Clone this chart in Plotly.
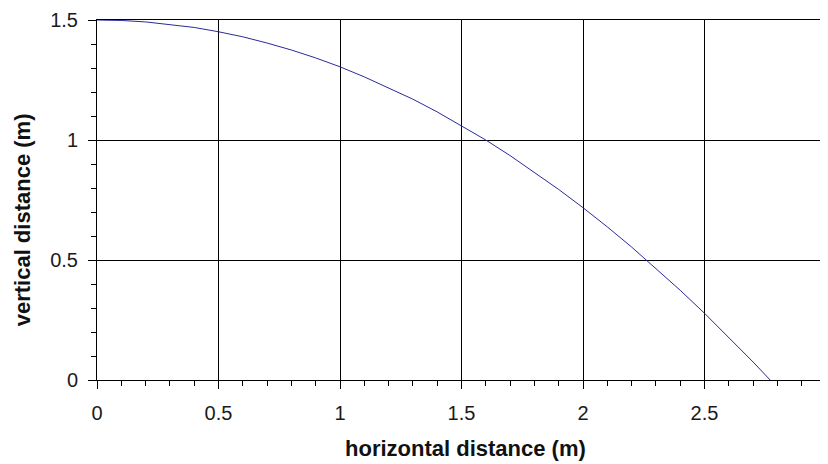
import plotly.graph_objects as go

x_vals = [0.0, 0.1, 0.2, 0.3, 0.4, 0.5, 0.6, 0.7, 0.8, 0.9, 1.0, 1.1, 1.2, 1.3, 1.4,
          1.5, 1.6, 1.7, 1.8, 1.9, 2.0, 2.1, 2.2, 2.3, 2.4, 2.5, 2.6, 2.7, 2.77]
y_vals = [1.5, 1.498, 1.492, 1.482, 1.469, 1.451, 1.43, 1.404, 1.375, 1.342, 1.305,
          1.263, 1.218, 1.170, 1.117, 1.06, 1.0, 0.935, 0.866, 0.794, 0.718, 0.638,
          0.554, 0.466, 0.374, 0.278, 0.178, 0.075, 0.0]
x_ticks = [0, 0.5, 1, 1.5, 2, 2.5, 3]
x_tick_labels = ["0", "0.5", "1", "1.5", "2", "2.5", "3"]
y_ticks = [0, 0.5, 1, 1.5]
y_tick_labels = ["0", "0.5", "1", "1.5"]
x_title = "horizontal distance (m)"
y_title = "vertical distance (m)"

FAM = "Liberation Sans, Arial, sans-serif"

fig = go.Figure()
fig.add_trace(go.Scatter(x=x_vals, y=y_vals, mode="lines",
                         line=dict(color="#2a2a9c", width=1), showlegend=False))

axis_common = dict(
    showgrid=True, gridcolor="#000000", gridwidth=1,
    showline=True, linecolor="#000000", linewidth=1, mirror=True,
    ticks="outside", ticklen=8, tickcolor="#000000", tickwidth=1,
    zeroline=False, ticklabeloverflow="allow",
    tickfont=dict(family=FAM, size=20, color="#1a1a1a"),
)

fig.update_layout(
    width=820, height=456,
    margin=dict(l=89, r=2, t=12, b=84, autoexpand=False),
    paper_bgcolor="white", plot_bgcolor="white",
    font=dict(family=FAM, size=20, color="#1a1a1a"),
    xaxis=dict(range=[0, 3], tickvals=x_ticks, ticktext=x_tick_labels,
               minor=dict(dtick=0.1, ticks="outside", ticklen=5, tickcolor="#000000", showgrid=False),
               ticklabelstandoff=7, **axis_common),
    yaxis=dict(range=[0, 1.5], tickvals=y_ticks, ticktext=y_tick_labels,
               minor=dict(dtick=0.1, ticks="outside", ticklen=5, tickcolor="#000000", showgrid=False),
               ticklabelstandoff=6, **axis_common),
    annotations=[
        dict(text="<b>" + x_title + "</b>", xref="paper", yref="paper",
             x=0.5055, y=-0.189, xanchor="center", yanchor="middle", showarrow=False,
             font=dict(family=FAM, size=22, color="#111111")),
        dict(text="<b>" + y_title + "</b>", xref="paper", yref="paper",
             x=-0.1027, y=0.444, xanchor="center", yanchor="middle", showarrow=False,
             textangle=-90, font=dict(family=FAM, size=22, color="#111111")),
    ],
)

fig.write_html("out.html")
